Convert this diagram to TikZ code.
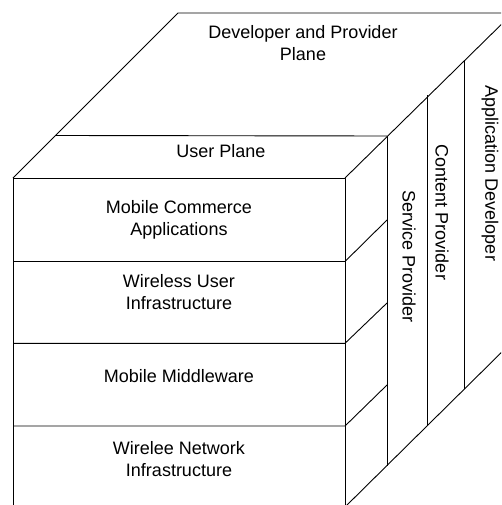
\documentclass[tikz,border=0pt]{standalone}
\usepackage{fontspec}
\setmainfont{Liberation Sans}
\usepackage{xcolor}
\usepackage{tikz}
\usetikzlibrary{calc}
\usetikzlibrary{positioning}
\tikzstyle{edge} = [draw=black, line width=0.9pt, line join=round]
\tikzstyle{lbl} = [align=center, inner sep=0pt, font=\fontsize{18}{22}\selectfont]
\tikzstyle{vlbl} = [lbl, rotate=-90]

\begin{document}
\begin{tikzpicture}[x=1pt, y=-1pt]
\useasboundingbox (0,0) rectangle (501,505);
\clip (0,0) rectangle (501,505);
\coordinate (FTL) at (13,178);
\coordinate (FTR) at (345,178);
\coordinate (FBL) at (13,507);
\coordinate (FBR) at (345,507);
\coordinate (BTL) at (178,13);
\coordinate (BTR) at (513,13);
\coordinate (BBR) at (513,341);
\coordinate (UL) at (55.5,135.5);
\coordinate (UR) at (387,136);
\coordinate (S1) at (387,136);
\coordinate (S2) at (387,466);
\coordinate (C1) at (427.3,95.5);
\coordinate (C2) at (427.3,425.7);
\coordinate (A1) at (464,60.5);
\coordinate (A2) at (464,389);
\coordinate (R1) at (13,261.5);
\coordinate (R1e) at (345,261.5);
\coordinate (R1s) at (387,220);
\coordinate (R2) at (13,343.3);
\coordinate (R2e) at (345,343.3);
\coordinate (R2s) at (387,303);
\coordinate (R3) at (13,426);
\coordinate (R3e) at (345,426);
\coordinate (R3s) at (387,385);

\draw [edge] (FBL) -- (FTL) -- (FTR) -- (FBR);
\draw [edge] (FTL) -- (BTL) -- (BTR);
\draw [edge] (BTR) -- (FTR);
\draw [edge] (FBR) -- (BBR);
\draw [edge] (UL) -- (UR);
\draw [edge] (R1) -- (R1e) -- (R1s);
\draw [edge] (R2) -- (R2e) -- (R2s);
\draw [edge] (R3) -- (R3e) -- (R3s);
\draw [edge] (S1) -- (S2);
\draw [edge] (C1) -- (C2);
\draw [edge] (A1) -- (A2);

\node [lbl] (dpp) at (303,43) {Developer and Provider\\Plane};
\node [lbl] (up) at (221,151) {User Plane};
\node [lbl] (mca) at (179,219.5) {Mobile Commerce\\Applications};
\node [lbl] (wui) at (179,292) {Wireless User\\Infrastructure};
\node [lbl] (mm) at (179,376.5) {Mobile Middleware};
\node [lbl] (wni) at (179,459.5) {Wirelee Network\\Infrastructure};
\node [vlbl] (sp) at (409,256.5) {Service Provider};
\node [vlbl] (cp) at (442,212.5) {Content Provider};
\node [vlbl] (ad) at (490,173.5) {Application Developer};
\end{tikzpicture}
\end{document}
